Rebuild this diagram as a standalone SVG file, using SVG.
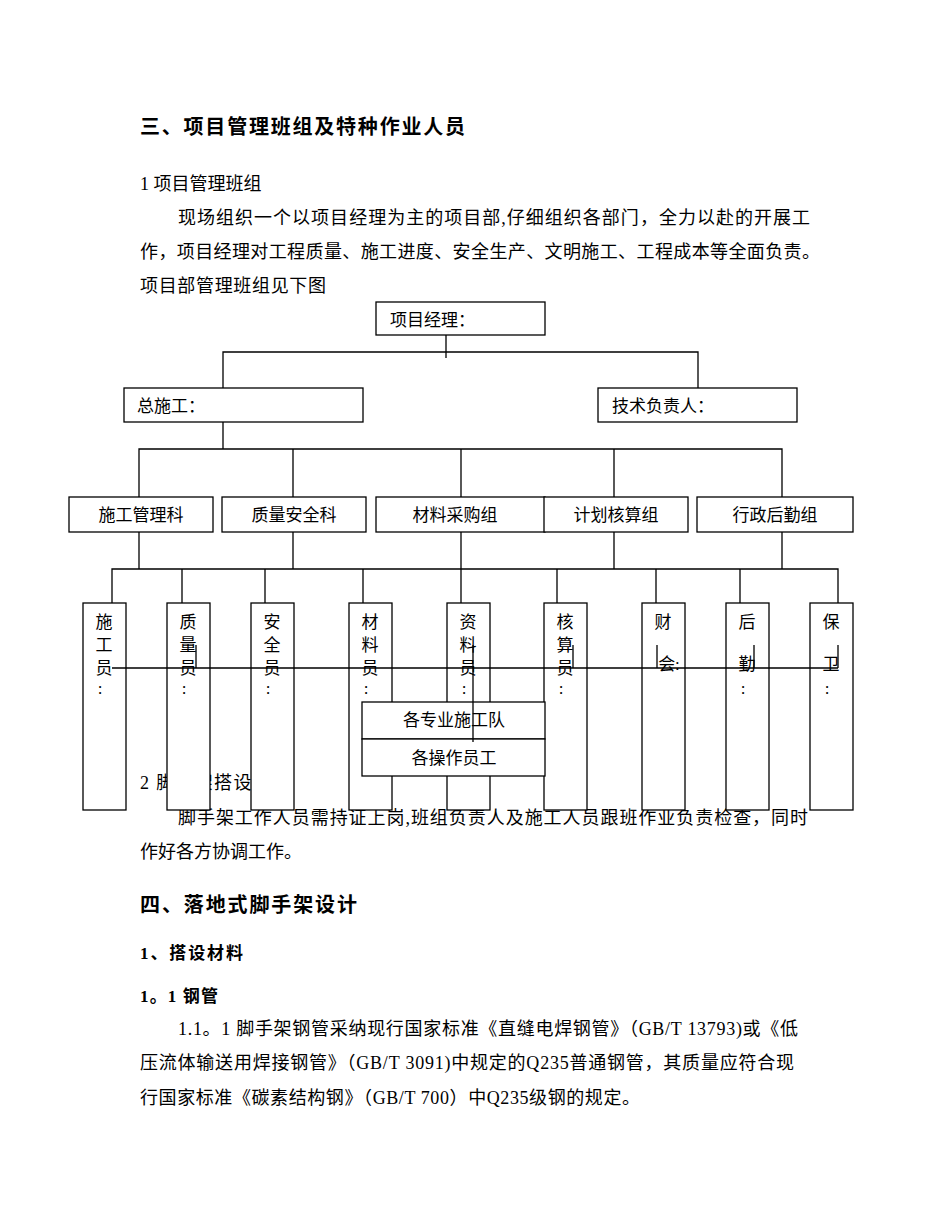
<svg xmlns="http://www.w3.org/2000/svg" width="950" height="1230" viewBox="0 0 950 1230">
<style>
text{font-family:"Liberation Serif","Noto Sans CJK SC",serif;fill:#000}
.b{font-size:18px}
.h{font-size:20px;font-weight:bold}
.h2{font-size:17px;font-weight:bold}
.n{font-size:17px}
.v{font-size:17px;text-anchor:middle}
rect{fill:#fff;stroke:#000;stroke-width:1.3}
.c line,.c path{stroke:#000;stroke-width:1.3;fill:none}
</style>
<rect x="0" y="0" width="950" height="1230" style="stroke:none"/>
<text class="h" x="140" y="134" textLength="325">三、项目管理班组及特种作业人员</text>
<text class="b" x="140" y="190">1 项目管理班组</text>
<text class="b" x="178" y="224" textLength="632">现场组织一个以项目经理为主的项目部,仔细组织各部门，全力以赴的开展工</text>
<text class="b" x="140" y="258" textLength="680">作，项目经理对工程质量、施工进度、安全生产、文明施工、工程成本等全面负责。</text>
<text class="b" x="140" y="292" textLength="186">项目部管理班组见下图</text>
<text class="b" x="140" y="789" textLength="150">2 脚手架搭设人员</text>
<text class="b" x="178" y="824" textLength="630">脚手架工作人员需持证上岗,班组负责人及施工人员跟班作业负责检查，同时</text>
<text class="b" x="140" y="858" textLength="162">作好各方协调工作。</text>
<text class="h" x="140" y="912" textLength="217">四、落地式脚手架设计</text>
<text class="h2" x="140" y="959" textLength="103">1、搭设材料</text>
<text class="h2" x="140" y="1002" textLength="78">1。1 钢管</text>
<text class="b" x="178" y="1035" textLength="620">1.1。1 脚手架钢管采纳现行国家标准《直缝电焊钢管》（GB/T 13793)或《低</text>
<text class="b" x="140" y="1069" textLength="654">压流体输送用焊接钢管》（GB/T 3091)中规定的Q235普通钢管，其质量应符合现</text>
<text class="b" x="140" y="1104" textLength="500">行国家标准《碳素结构钢》（GB/T 700）中Q235级钢的规定。</text>

<g class="c" id="connectors">
<path d="M446 335V358M223 388V352H698V388"/>
<path d="M223 422V449M139 497V449H782V497M293 449V497M461 449V497M614 449V497"/>
<path d="M139 532V569M293 532V569M461 532V569M614 532V569M782 532V569"/>
<path d="M112 603V569H838V603M182 569V603M265 569V603M363 569V603M461 569V603M557 569V603M656 569V603M740 569V603"/>
</g>
<g id="n-pm"><rect x="376" y="302" width="169" height="33"/><text class="n" x="390" y="326">项目经理：</text></g>
<g id="n-zsg"><rect x="124" y="388" width="239" height="34"/><text class="n" x="137" y="412">总施工：</text></g>
<g id="n-jsfz"><rect x="598" y="388" width="199" height="34"/><text class="n" x="612" y="412">技术负责人：</text></g>
<g id="n-sggl"><rect x="69" y="497" width="144" height="35"/><text class="v" x="141" y="521">施工管理科</text></g>
<g id="n-zlaq"><rect x="222" y="497" width="144" height="35"/><text class="v" x="294" y="521">质量安全科</text></g>
<g id="n-clcg"><rect x="376" y="497" width="169" height="35"/><text class="v" x="455" y="521">材料采购组</text></g>
<g id="n-jhhs"><rect x="544" y="497" width="144" height="35"/><text class="v" x="616" y="521">计划核算组</text></g>
<g id="n-xzhq"><rect x="697" y="497" width="156" height="35"/><text class="v" x="775" y="521">行政后勤组</text></g>

<g id="n-sgy"><rect x="83" y="603" width="43" height="207"/><text class="v" x="104" y="628">施</text><text class="v" x="104" y="651">工</text><text class="v" x="104" y="674">员</text><text class="v" x="100" y="694">:</text></g>
<g id="n-zly"><rect x="167" y="603" width="43" height="207"/><text class="v" x="188" y="628">质</text><text class="v" x="188" y="651">量</text><text class="v" x="188" y="674">员</text><text class="v" x="184" y="694">:</text></g>
<g id="n-aqy"><rect x="251" y="603" width="43" height="207"/><text class="v" x="272" y="628">安</text><text class="v" x="272" y="651">全</text><text class="v" x="272" y="674">员</text><text class="v" x="268" y="694">:</text></g>
<g id="n-cly"><rect x="349" y="603" width="43" height="207"/><text class="v" x="370" y="628">材</text><text class="v" x="370" y="651">料</text><text class="v" x="370" y="674">员</text><text class="v" x="366" y="694">:</text></g>
<g id="n-zly2"><rect x="447" y="603" width="43" height="207"/><text class="v" x="468" y="628">资</text><text class="v" x="468" y="651">料</text><text class="v" x="468" y="674">员</text><text class="v" x="464" y="694">:</text></g>
<g id="n-hsy"><rect x="544" y="603" width="43" height="207"/><text class="v" x="565" y="628">核</text><text class="v" x="565" y="651">算</text><text class="v" x="565" y="674">员</text><text class="v" x="561" y="694">:</text></g>
<g id="n-ck"><rect x="642" y="603" width="43" height="207"/><text class="v" x="663" y="628">财</text><text class="v" x="669" y="670">会:</text></g>
<g id="n-hq"><rect x="726" y="603" width="43" height="207"/><text class="v" x="747" y="628">后</text><text class="v" x="747" y="670">勤</text><text class="v" x="743" y="694">:</text></g>
<g id="n-bw"><rect x="810" y="603" width="43" height="207"/><text class="v" x="831" y="628">保</text><text class="v" x="831" y="670">卫</text><text class="v" x="827" y="694">:</text></g>

<g id="n-dui"><rect x="362" y="702" width="183" height="37"/><text class="v" x="454" y="726">各专业施工队</text></g>
<g id="n-yg"><rect x="362" y="739" width="183" height="37"/><text class="v" x="454" y="764">各操作员工</text></g>

<g class="c" id="connectors2">
<path d="M112 668H838M196 645V668M573 645V668M657 645V668M754 645V668M838 645V668M473 645V742"/>
</g>
</svg>
